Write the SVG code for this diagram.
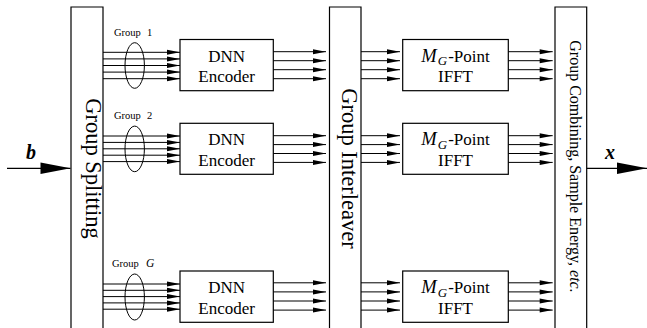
<svg xmlns="http://www.w3.org/2000/svg" width="647" height="328" viewBox="0 0 647 328">
<style>
.box{fill:#fff;stroke:#000;stroke-width:1.2}
.ln{fill:none;stroke:#000;stroke-width:1}
.ar{fill:none;stroke:#000;stroke-width:1;marker-end:url(#ah)}
.big{fill:none;stroke:#000;stroke-width:1.2;marker-end:url(#bh)}
.t{font-family:'Liberation Serif',serif;font-size:17px;fill:#000;text-anchor:middle}
.v{font-family:'Liberation Serif',serif;font-size:22.5px;fill:#000;text-anchor:middle}
.vs{font-family:'Liberation Serif',serif;font-size:16px;fill:#000;text-anchor:middle}
.g{font-family:'Liberation Serif',serif;font-size:10.5px;fill:#000}
.it{font-style:italic}
</style>
<defs>
<marker id="ah" markerUnits="userSpaceOnUse" markerWidth="13" markerHeight="6" refX="13" refY="2.5" orient="auto" overflow="visible">
<path d="M0,0 L13,2.5 L0,5 z" fill="#000"/>
</marker>
<marker id="bh" markerUnits="userSpaceOnUse" markerWidth="30" markerHeight="12" refX="30" refY="5.7" orient="auto" overflow="visible">
<path d="M0,0 L30,5.7 L0,11.4 z" fill="#000"/>
</marker>
</defs>

<g id="splitting">
<path class="box" d="M71,332 V7 H103 V332"/>
<text class="v" transform="translate(86,168.5) rotate(90)">Group Splitting</text>
</g>
<g id="interleaver">
<path class="box" d="M329.5,332 V7 H361 V332"/>
<text class="v" transform="translate(341.6,168.5) rotate(90)">Group Interleaver</text>
</g>
<g id="combining">
<path class="box" d="M555,332 V7 H586.7 V332"/>
<text class="vs" transform="translate(569.5,166.5) rotate(90)">Group Combining, Sample Energy, <tspan class="it">etc.</tspan></text>
</g>

<g id="enc1"><rect class="box" x="180" y="39.5" width="93.3" height="51.2"/><text class="t" x="226.6" y="61.5">DNN</text><text class="t" x="226.6" y="82">Encoder</text></g>
<g id="enc2"><rect class="box" x="180" y="123.3" width="93.3" height="51"/><text class="t" x="226.6" y="145.2">DNN</text><text class="t" x="226.6" y="165.7">Encoder</text></g>
<g id="enc3"><rect class="box" x="180" y="271" width="93.3" height="51.3"/><text class="t" x="226.6" y="293">DNN</text><text class="t" x="226.6" y="313.5">Encoder</text></g>

<g id="ifft1"><rect class="box" x="402.7" y="39.5" width="105.6" height="51.2"/><text class="t" x="455.5" y="61.5"><tspan class="it" font-size="18.5">M</tspan><tspan class="it" font-size="13" dx="1" dy="3.5">G</tspan><tspan dx="1" dy="-3.5">-Point</tspan></text><text class="t" x="455.5" y="82">IFFT</text></g>
<g id="ifft2"><rect class="box" x="402.7" y="123.3" width="105.6" height="51"/><text class="t" x="455.5" y="145.2"><tspan class="it" font-size="18.5">M</tspan><tspan class="it" font-size="13" dx="1" dy="3.5">G</tspan><tspan dx="1" dy="-3.5">-Point</tspan></text><text class="t" x="455.5" y="165.7">IFFT</text></g>
<g id="ifft3"><rect class="box" x="402.7" y="271" width="105.6" height="51.3"/><text class="t" x="455.5" y="293"><tspan class="it" font-size="18.5">M</tspan><tspan class="it" font-size="13" dx="1" dy="3.5">G</tspan><tspan dx="1" dy="-3.5">-Point</tspan></text><text class="t" x="455.5" y="313.5">IFFT</text></g>

<g id="group-labels">
<text class="g" x="114" y="36">Group<tspan x="147">1</tspan></text>
<text class="g" x="114" y="119">Group<tspan x="147">2</tspan></text>
<text class="g" x="112" y="266.7">Group<tspan x="146" class="it" font-size="11.5">G</tspan></text>
</g>

<g id="connectors">
<line class="big" x1="7" y1="168.3" x2="70.5" y2="168.3"/>
<text font-family="'Liberation Serif',serif" font-size="20" font-style="italic" font-weight="bold" x="26" y="159">b</text>
<line class="big" x1="586.7" y1="168.3" x2="647" y2="168.3"/>
<text font-family="'Liberation Serif',serif" font-size="20" font-style="italic" font-weight="bold" x="605" y="159">x</text>

<ellipse class="ln" cx="134.7" cy="65.5" rx="9.7" ry="22.8"/>
<ellipse class="ln" cx="134.7" cy="148.9" rx="9.7" ry="22.8"/>
<ellipse class="ln" cx="134.7" cy="297" rx="9.7" ry="23"/>

<line class="ar" x1="103" y1="52.3" x2="180" y2="52.3"/><line class="ar" x1="103" y1="58.9" x2="180" y2="58.9"/><line class="ar" x1="103" y1="65.5" x2="180" y2="65.5"/><line class="ar" x1="103" y1="72.1" x2="180" y2="72.1"/><line class="ar" x1="103" y1="78.7" x2="180" y2="78.7"/>
<line class="ar" x1="103" y1="136" x2="180" y2="136"/><line class="ar" x1="103" y1="142.4" x2="180" y2="142.4"/><line class="ar" x1="103" y1="148.8" x2="180" y2="148.8"/><line class="ar" x1="103" y1="155.2" x2="180" y2="155.2"/><line class="ar" x1="103" y1="161.6" x2="180" y2="161.6"/>
<line class="ar" x1="103" y1="284" x2="180" y2="284"/><line class="ar" x1="103" y1="290.3" x2="180" y2="290.3"/><line class="ar" x1="103" y1="296.6" x2="180" y2="296.6"/><line class="ar" x1="103" y1="302.9" x2="180" y2="302.9"/><line class="ar" x1="103" y1="309.2" x2="180" y2="309.2"/>

<line class="ar" x1="273.3" y1="51.7" x2="326" y2="51.7"/><line class="ar" x1="273.3" y1="60.7" x2="326" y2="60.7"/><line class="ar" x1="273.3" y1="69.7" x2="326" y2="69.7"/><line class="ar" x1="273.3" y1="78.7" x2="326" y2="78.7"/>
<line class="ar" x1="273.3" y1="135.7" x2="326" y2="135.7"/><line class="ar" x1="273.3" y1="144.6" x2="326" y2="144.6"/><line class="ar" x1="273.3" y1="153.5" x2="326" y2="153.5"/><line class="ar" x1="273.3" y1="162.4" x2="326" y2="162.4"/>
<line class="ar" x1="273.3" y1="282.8" x2="326" y2="282.8"/><line class="ar" x1="273.3" y1="291.9" x2="326" y2="291.9"/><line class="ar" x1="273.3" y1="301" x2="326" y2="301"/><line class="ar" x1="273.3" y1="310.1" x2="326" y2="310.1"/>

<line class="ar" x1="361" y1="51.7" x2="400" y2="51.7"/><line class="ar" x1="361" y1="60.7" x2="400" y2="60.7"/><line class="ar" x1="361" y1="69.7" x2="400" y2="69.7"/><line class="ar" x1="361" y1="78.7" x2="400" y2="78.7"/>
<line class="ar" x1="361" y1="135.7" x2="400" y2="135.7"/><line class="ar" x1="361" y1="144.6" x2="400" y2="144.6"/><line class="ar" x1="361" y1="153.5" x2="400" y2="153.5"/><line class="ar" x1="361" y1="162.4" x2="400" y2="162.4"/>
<line class="ar" x1="361" y1="282.8" x2="400" y2="282.8"/><line class="ar" x1="361" y1="291.9" x2="400" y2="291.9"/><line class="ar" x1="361" y1="301" x2="400" y2="301"/><line class="ar" x1="361" y1="310.1" x2="400" y2="310.1"/>

<line class="ar" x1="508.3" y1="51.7" x2="552.7" y2="51.7"/><line class="ar" x1="508.3" y1="60.7" x2="552.7" y2="60.7"/><line class="ar" x1="508.3" y1="69.7" x2="552.7" y2="69.7"/><line class="ar" x1="508.3" y1="78.7" x2="552.7" y2="78.7"/>
<line class="ar" x1="508.3" y1="135.7" x2="552.7" y2="135.7"/><line class="ar" x1="508.3" y1="144.6" x2="552.7" y2="144.6"/><line class="ar" x1="508.3" y1="153.5" x2="552.7" y2="153.5"/><line class="ar" x1="508.3" y1="162.4" x2="552.7" y2="162.4"/>
<line class="ar" x1="508.3" y1="282.8" x2="552.7" y2="282.8"/><line class="ar" x1="508.3" y1="291.9" x2="552.7" y2="291.9"/><line class="ar" x1="508.3" y1="301" x2="552.7" y2="301"/><line class="ar" x1="508.3" y1="310.1" x2="552.7" y2="310.1"/>
</g>
</svg>
